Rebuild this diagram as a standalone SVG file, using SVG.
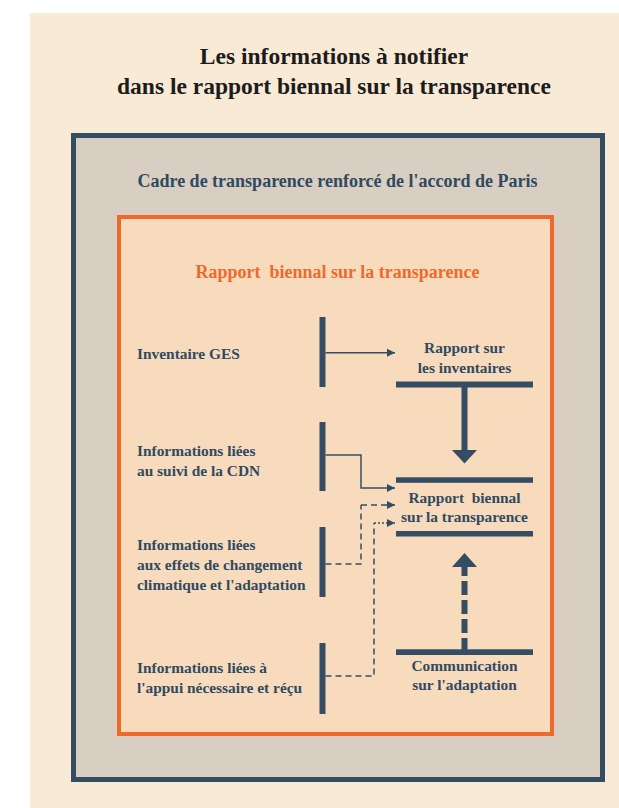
<svg xmlns="http://www.w3.org/2000/svg" width="619" height="808" viewBox="0 0 619 808">
<defs>
<style>
text{font-family:'Liberation Serif','Times New Roman','DejaVu Serif',serif;font-weight:bold;}
.title{font-size:23.5px;fill:#1c1c1c;text-anchor:middle;}
.navy{fill:#2f4a61;}
.lbl{font-size:15.4px;}
.ctr{text-anchor:middle;}
.bar{fill:#344d62;}
.ln{fill:none;stroke:#344d62;stroke-width:1.5;}
.dash{stroke-dasharray:6 4;}
.dot{stroke-dasharray:2 2;}
</style>
<marker id="ah" markerUnits="userSpaceOnUse" markerWidth="9" markerHeight="10" refX="8" refY="5" orient="auto">
<path d="M0,1 L8,5 L0,9 Z" fill="#344d62"/>
</marker>
</defs>
<rect x="0" y="0" width="619" height="808" fill="#ffffff"/>
<rect x="30" y="13" width="589" height="795" fill="#f9ead5"/>
<g font-family="Liberation Serif, Times New Roman, DejaVu Serif, serif" font-weight="bold">
<g id="title">
<text class="title" x="334" y="64">Les informations à notifier</text>
<text class="title" x="334" y="94">dans le rapport biennal sur la transparence</text>
</g>
<g id="cadre">
<rect x="73.5" y="135.5" width="529" height="644" fill="#d8cec2" stroke="#344d62" stroke-width="5"/>
<text class="navy ctr" x="337.5" y="187" font-size="18">Cadre de transparence renforcé de l'accord de Paris</text>
</g>
<g id="rapport-frame">
<rect x="119" y="217" width="433" height="517" fill="#f8dabd" stroke="#ee6a2b" stroke-width="4"/>
<text class="ctr" x="337.5" y="278" font-size="18" fill="#ee6a2b" xml:space="preserve">Rapport  biennal sur la transparence</text>
</g>
<g id="inventaire-ges">
<rect class="bar" x="319.5" y="317" width="6" height="70"/>
<text class="navy lbl" x="137" y="359">Inventaire GES</text>
</g>
<g id="suivi-cdn">
<rect class="bar" x="319.5" y="422" width="6" height="69"/>
<text class="navy lbl" x="137" y="456">Informations liées</text>
<text class="navy lbl" x="137" y="476">au suivi de la CDN</text>
</g>
<g id="adaptation">
<rect class="bar" x="319.5" y="527" width="6" height="70"/>
<text class="navy lbl" x="137" y="550">Informations liées</text>
<text class="navy lbl" x="137" y="570">aux effets de changement</text>
<text class="navy lbl" x="137" y="590">climatique et l'adaptation</text>
</g>
<g id="appui">
<rect class="bar" x="319.5" y="643" width="6" height="71"/>
<text class="navy lbl" x="137" y="673">Informations liées à</text>
<text class="navy lbl" x="137" y="693">l'appui nécessaire et réçu</text>
</g>
<g id="rapport-inventaires">
<rect class="bar" x="396" y="381.5" width="137" height="6"/>
<text class="navy lbl ctr" x="464.5" y="353">Rapport sur</text>
<text class="navy lbl ctr" x="464.5" y="373">les inventaires</text>
</g>
<g id="rapport-biennal">
<rect class="bar" x="396" y="477.3" width="137" height="5.5"/>
<rect class="bar" x="396" y="531" width="137" height="5.5"/>
<text class="navy lbl ctr" x="464.5" y="503" xml:space="preserve">Rapport  biennal</text>
<text class="navy lbl ctr" x="464.5" y="522">sur la transparence</text>
</g>
<g id="communication-adaptation">
<rect class="bar" x="396" y="649.3" width="137" height="5.7"/>
<text class="navy lbl ctr" x="464.5" y="671">Communication</text>
<text class="navy lbl ctr" x="464.5" y="690">sur l'adaptation</text>
</g>
</g>
<g id="connectors">
<path class="ln" d="M325.5,352.7 H395" marker-end="url(#ah)"/>
<path class="ln" d="M325.5,455 H361 V488 H395" marker-end="url(#ah)"/>
<path class="ln dash" d="M325.5,564 H361 V505"/>
<path class="ln dash" d="M361,505 H395" marker-end="url(#ah)"/>
<path class="ln dash" d="M325.5,676 H374 V523"/>
<path class="ln dot" d="M374,523 H395" marker-end="url(#ah)"/>
<rect class="bar" x="461.5" y="387" width="6" height="64"/>
<polygon class="bar" points="452,450 477,450 464.5,463.5"/>
<path d="M464.5,652 V565" fill="none" stroke="#344d62" stroke-width="6" stroke-dasharray="14 5"/>
<polygon class="bar" points="452,567 477,567 464.5,553"/>
</g>
</svg>
